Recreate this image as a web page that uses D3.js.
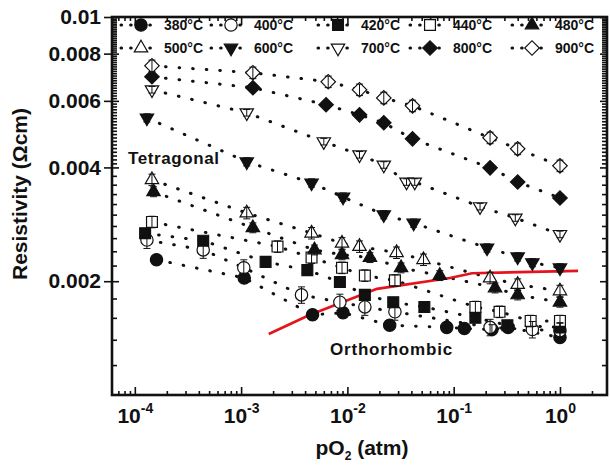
<!DOCTYPE html>
<html>
<head>
<meta charset="utf-8">
<script src="https://cdn.jsdelivr.net/npm/d3@7"></script>
<style>
  body { margin: 0; background: #fff; }
  svg text { font-family: "Liberation Sans", Arial, sans-serif; font-weight: bold; fill: #111; }
</style>
</head>
<body>
<svg id="chart" width="610" height="465"></svg>
<script>
// temperatures in legend order
const temps = ["380°C", "400°C", "420°C", "440°C", "480°C", "500°C", "600°C", "700°C", "800°C", "900°C"]

// pO2 (atm) and resistivity (ohm cm) for each temperature
const pO2_380 = [1.6e-4, 1.07e-3, 4.7e-3, 9.1e-3, 0.025, 0.086, 0.126, 0.229, 0.325, 1.0]
const rho_380 = [2.28e-3, 2.04e-3, 1.63e-3, 1.65e-3, 1.53e-3, 1.51e-3, 1.50e-3, 1.49e-3, 1.51e-3, 1.42e-3]
const pO2_400 = [1.3e-4, 4.4e-4, 1.06e-3, 3.7e-3, 8.5e-3, 0.0146, 0.028, 0.22, 0.55, 1.0]
const rho_400 = [2.57e-3, 2.42e-3, 2.17e-3, 1.84e-3, 1.76e-3, 1.71e-3, 1.66e-3, 1.51e-3, 1.49e-3, 1.48e-3]
const pO2_420 = [1.25e-4, 4.4e-4, 1.7e-3, 4.2e-3, 8.5e-3, 0.0146, 0.027, 0.053, 0.16, 0.32, 1.0]
const rho_420 = [2.68e-3, 2.56e-3, 2.25e-3, 2.14e-3, 1.99e-3, 1.84e-3, 1.76e-3, 1.71e-3, 1.60e-3, 1.53e-3, 1.51e-3]
const pO2_440 = [1.45e-4, 2.2e-3, 4.6e-3, 8.9e-3, 0.0146, 0.028, 0.16, 0.27, 0.53, 1.0]
const rho_440 = [2.87e-3, 2.47e-3, 2.31e-3, 2.17e-3, 2.07e-3, 2.01e-3, 1.71e-3, 1.66e-3, 1.57e-3, 1.57e-3]
const pO2_480 = [1.5e-4, 1.29e-3, 4.9e-3, 8.9e-3, 0.0163, 0.032, 0.074, 0.245, 0.40, 1.0]
const rho_480 = [3.45e-3, 2.77e-3, 2.42e-3, 2.35e-3, 2.31e-3, 2.17e-3, 2.07e-3, 1.92e-3, 1.84e-3, 1.76e-3]
const pO2_500 = [1.45e-4, 1.13e-3, 4.6e-3, 8.9e-3, 0.013, 0.029, 0.052, 0.22, 0.40, 1.0]
const rho_500 = [3.71e-3, 3.03e-3, 2.68e-3, 2.52e-3, 2.47e-3, 2.38e-3, 2.28e-3, 2.04e-3, 1.96e-3, 1.885e-3]
const pO2_600 = [1.3e-4, 1.13e-3, 4.6e-3, 9.1e-3, 0.022, 0.042, 0.206, 0.40, 0.55, 1.0]
const rho_600 = [5.41e-3, 4.14e-3, 3.64e-3, 3.34e-3, 3.0e-3, 2.85e-3, 2.45e-3, 2.32e-3, 2.24e-3, 2.17e-3]
const pO2_700 = [1.45e-4, 1.13e-3, 6.0e-3, 0.013, 0.022, 0.036, 0.043, 0.177, 0.38, 1.0]
const rho_700 = [6.42e-3, 5.58e-3, 4.68e-3, 4.32e-3, 4.06e-3, 3.66e-3, 3.66e-3, 3.15e-3, 2.94e-3, 2.66e-3]
const pO2_800 = [1.45e-4, 1.29e-3, 6.3e-3, 0.013, 0.022, 0.041, 0.22, 0.40, 1.0]
const rho_800 = [6.95e-3, 6.50e-3, 5.86e-3, 5.51e-3, 5.25e-3, 4.76e-3, 3.99e-3, 3.66e-3, 3.32e-3]
const pO2_900 = [1.45e-4, 1.29e-3, 6.6e-3, 0.013, 0.022, 0.041, 0.22, 0.40, 1.0]
const rho_900 = [7.43e-3, 7.12e-3, 6.74e-3, 6.42e-3, 6.11e-3, 5.82e-3, 4.79e-3, 4.48e-3, 4.04e-3]

// relative error bar size per temperature
const errFrac = [0.03, 0.05, 0.025, 0.035, 0.03, 0.035, 0.025, 0.02, 0.02, 0.035]

// phase boundary (red line)
const boundaryPO2 = [1.82e-3, 4.4e-3, 0.019, 0.092, 0.149, 1.48]
const boundaryRho = [1.45e-3, 1.628e-3, 1.909e-3, 2.04e-3, 2.10e-3, 2.13e-3]

// axis tick labels
const yTickValues = [0.002, 0.004, 0.006, 0.008, 0.01]
const yTickLabels = ["0.002", "0.004", "0.006", "0.008", "0.01"]
const xTickValues = [1e-4, 1e-3, 1e-2, 1e-1, 1]
const xTickExp = ["-4", "-3", "-2", "-1", "0"]

const pO2s = [pO2_380, pO2_400, pO2_420, pO2_440, pO2_480, pO2_500, pO2_600, pO2_700, pO2_800, pO2_900]
const rhos = [rho_380, rho_400, rho_420, rho_440, rho_480, rho_500, rho_600, rho_700, rho_800, rho_900]

// marker style per series: shape, filled?
const shapes = ["circle", "circle", "square", "square", "up", "up", "down", "down", "diamond", "diamond"]
const filled = [true, false, true, false, true, false, true, false, true, false]

const series = temps.map((t, i) => ({
    name: t,
    shape: shapes[i],
    filled: filled[i],
    err: errFrac[i],
    points: pO2s[i].map((p, j) => ({ p: p, r: rhos[i][j] }))
}))

const ink = "#111"
const plot = { left: 112, right: 607, top: 17, bottom: 395 }

const svg = d3.select("#chart")

const x = d3.scaleLog().domain([6.1e-5, 2.77]).range([plot.left, plot.right])
const y = d3.scaleLog().domain([0.001, 0.01]).range([plot.bottom, plot.top])

// minor tick positions
let xMinor = []
for (let d = -5; d <= 0; d++) {
    for (let m = 2; m <= 9; m++) {
        const v = m * Math.pow(10, d)
        if (v > 6.1e-5 && v < 2.77) xMinor.push(v)
    }
}
let yMinor = []
for (let k = 12; k < 40; k += 2) if (k !== 20) yMinor.push(k / 10000)
for (let k = 41; k < 100; k++) if (k !== 60 && k !== 80) yMinor.push(k / 10000)

function tickAxis(axisFn, scale, values, size, transform) {
    const g = svg.append("g")
        .attr("transform", transform)
        .call(axisFn(scale).tickValues(values).tickSize(size).tickSizeOuter(0).tickFormat(""))
    g.select(".domain").remove()
    g.selectAll(".tick line").attr("stroke", ink).attr("stroke-width", 1.6)
    return g
}

// bottom / top x ticks (inward)
tickAxis(d3.axisBottom, x, xMinor, -4, `translate(0,${plot.bottom})`)
tickAxis(d3.axisBottom, x, xTickValues, -8, `translate(0,${plot.bottom})`)
tickAxis(d3.axisTop, x, xMinor, -4, `translate(0,${plot.top})`)
tickAxis(d3.axisTop, x, xTickValues, -8, `translate(0,${plot.top})`)
// left / right y ticks
tickAxis(d3.axisLeft, y, yMinor, -5, `translate(${plot.left},0)`)
tickAxis(d3.axisLeft, y, yTickValues, -7, `translate(${plot.left},0)`)
tickAxis(d3.axisLeft, y, yTickValues, 8, `translate(${plot.left},0)`)
tickAxis(d3.axisRight, y, yMinor, -5, `translate(${plot.right},0)`)
tickAxis(d3.axisRight, y, yTickValues, -7, `translate(${plot.right},0)`)

// frame
svg.append("rect")
    .attr("x", plot.left).attr("y", plot.top)
    .attr("width", plot.right - plot.left).attr("height", plot.bottom - plot.top)
    .attr("fill", "none").attr("stroke", ink).attr("stroke-width", 2.6)

// y tick labels
const yLab = svg.append("g")
    .attr("transform", `translate(${plot.left - 11},0)`)
    .call(d3.axisLeft(y).tickValues(yTickValues).tickSize(0)
        .tickFormat((d, i) => yTickLabels[i]))
yLab.select(".domain").remove()
yLab.selectAll("text")
    .attr("x", 0)
    .attr("fill", ink)
    .style("font-size", "21px")
    .style("font-family", '"Liberation Sans", Arial, sans-serif')
    .style("font-weight", "bold")

// x tick labels with superscript
const xLab = svg.append("g")
    .attr("transform", `translate(0,${plot.bottom})`)
    .call(d3.axisBottom(x).tickValues(xTickValues).tickSize(0).tickFormat(""))
xLab.select(".domain").remove()
xLab.selectAll(".tick").each(function (d, i) {
    const t = d3.select(this).append("text")
        .attr("y", 28)
        .attr("text-anchor", "middle")
        .attr("fill", ink)
        .style("font-size", "21px")
    t.append("tspan").text("10")
    t.append("tspan").attr("dy", -10).style("font-size", "14px").text(xTickExp[i])
})

// axis titles
svg.append("text")
    .attr("transform", "translate(27,194) rotate(-90)")
    .attr("text-anchor", "middle")
    .style("font-size", "21px")
    .text("Resistivity (Ωcm)")

const xt = svg.append("text")
    .attr("x", 362)
    .attr("y", 455)
    .attr("text-anchor", "middle")
    .style("font-size", "21px")
xt.append("tspan").text("pO")
xt.append("tspan").attr("dy", 5).style("font-size", "12px").text("2")
xt.append("tspan").attr("dy", -5).text(" (atm)")

// phase labels
svg.append("text").attr("x", 128).attr("y", 164)
    .style("font-size", "17px").style("letter-spacing", "0.6px").text("Tetragonal")
svg.append("text").attr("x", 330).attr("y", 355)
    .style("font-size", "17px").style("letter-spacing", "0.8px").text("Orthorhombic")

// symbol helpers
function symbolPath(shape) {
    if (shape === "circle") return d3.symbol().type(d3.symbolCircle).size(120)()
    if (shape === "square") return d3.symbol().type(d3.symbolSquare).size(118)()
    if (shape === "diamond") return d3.symbol().type(d3.symbolSquare).size(105)()
    return d3.symbol().type(d3.symbolTriangle).size(78)()
}
function symbolRotate(shape) {
    if (shape === "down") return " rotate(180)"
    if (shape === "diamond") return " rotate(45)"
    return ""
}
function drawSymbol(g, s, cx, cy) {
    g.append("path")
        .attr("d", symbolPath(s.shape))
        .attr("transform", `translate(${cx},${cy})` + symbolRotate(s.shape))
        .attr("fill", s.filled ? ink : "#fff")
        .attr("stroke", ink)
        .attr("stroke-width", 1.2)
}

const dotted = { width: 3, dash: "0.6 13" }

const line = d3.line()
    .x(d => x(d.p))
    .y(d => y(d.r))

// dotted connecting lines
svg.append("g").selectAll("path")
    .data(series)
    .enter()
    .append("path")
    .attr("d", d => line(d.points))
    .attr("fill", "none")
    .attr("stroke", ink)
    .attr("stroke-width", dotted.width)
    .attr("stroke-linecap", "round")
    .attr("stroke-dasharray", dotted.dash)

// red phase boundary
svg.append("path")
    .datum(boundaryPO2.map((p, i) => ({ p: p, r: boundaryRho[i] })))
    .attr("d", line)
    .attr("fill", "none")
    .attr("stroke", "#e5131b")
    .attr("stroke-width", 2.6)

// markers and error bars
const marks = svg.append("g")
series.forEach(s => {
    s.points.forEach(d => drawSymbol(marks, s, x(d.p), y(d.r)))
})
const errs = svg.append("g").attr("stroke", ink).attr("stroke-width", 1)
series.forEach(s => {
    s.points.forEach(d => {
        const cx = x(d.p), y1 = y(d.r * (1 + s.err)), y2 = y(d.r * (1 - s.err))
        errs.append("line").attr("x1", cx).attr("x2", cx).attr("y1", y1).attr("y2", y2)
        errs.append("line").attr("x1", cx - 3.5).attr("x2", cx + 3.5).attr("y1", y1).attr("y2", y1)
        errs.append("line").attr("x1", cx - 3.5).attr("x2", cx + 3.5).attr("y1", y2).attr("y2", y2)
    })
})

// legend: two rows of five
const legendCols = [141, 231, 338, 430, 532]
const legendRows = [25, 48]
const legend = svg.append("g")
series.forEach((s, i) => {
    const cx = legendCols[i % 5], cy = legendRows[Math.floor(i / 5)]
    legend.append("line")
        .attr("x1", cx - 20).attr("x2", cx + 16).attr("y1", cy).attr("y2", cy)
        .attr("stroke", ink)
        .attr("stroke-width", dotted.width)
        .attr("stroke-linecap", "round")
        .attr("stroke-dasharray", "0.6 9")
    drawSymbol(legend, s, cx, cy)
    legend.append("text")
        .attr("x", cx + 23)
        .attr("y", cy + 5)
        .style("font-size", "14px")
        .attr("fill", "#222")
        .text(s.name)
})
</script>
</body>
</html>
